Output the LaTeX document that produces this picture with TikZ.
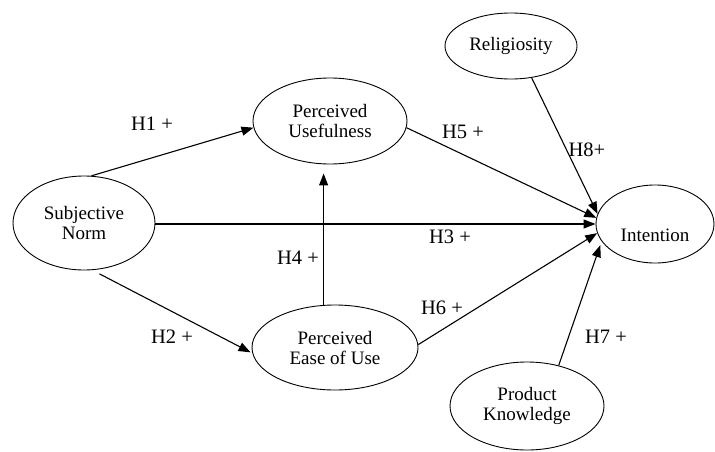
\documentclass[tikz,border=0pt]{standalone}
\usepackage{fontspec}
\setmainfont{Liberation Serif}
\usetikzlibrary{shapes.geometric,arrows.meta}
\begin{document}
\begin{tikzpicture}[x=1pt,y=1pt,
  construct/.style={ellipse,draw,line width=0.9pt,inner sep=0pt,align=center,
    font=\fontsize{19}{20}\selectfont},
  link/.style={line width=1.1pt,-{Triangle[length=12pt,width=9pt]}},
  hyp/.style={font=\fontsize{20.5}{22}\selectfont}]
\useasboundingbox (0,0) rectangle (715,451);
\node[construct,minimum width=142,minimum height=94] (sn) at (84,228) {Subjective\\Norm};
\node[construct,minimum width=154,minimum height=86] (pu) at (330,330) {Perceived\\Usefulness};
\node[construct,minimum width=166,minimum height=85] (peou) at (335,103.5) {Perceived\\Ease of Use};
\node[construct,minimum width=118,minimum height=78] (int) at (655,227) {\raisebox{-17pt}[0pt][0pt]{Intention}};
\node[construct,minimum width=132,minimum height=66] (rel) at (511,405) {Religiosity};
\node[construct,minimum width=154,minimum height=88] (pk) at (527,45) {Product\\Knowledge};

\draw[link] (sn.81) -- (pu.185);
\draw[link] (sn.east |- int.west) -- (int.west);
\draw[link,shorten <=8pt,shorten >=2pt] (sn.-80) -- (peou.184);
\draw[link,shorten >=9pt] (peou.105) -- (peou.105 |- pu.south);
\draw[link] (pu.-5) -- (int.174);
\draw[link] (peou.2) -- (int.189);
\draw[link] (rel.-57) -- (int.170);
\draw[link,shorten >=4pt] (pk.52) -- (int.198);

\node[hyp] (h1) at (152,327) {H1 +};
\node[hyp] (h2) at (172,114) {H2 +};
\node[hyp] (h3) at (450,214) {H3 +};
\node[hyp] (h4) at (298,193) {H4 +};
\node[hyp] (h5) at (463,319) {H5 +};
\node[hyp] (h6) at (442,143) {H6 +};
\node[hyp] (h7) at (606,114) {H7 +};
\node[hyp] (h8) at (587,301) {H8+};
\end{tikzpicture}
\end{document}
